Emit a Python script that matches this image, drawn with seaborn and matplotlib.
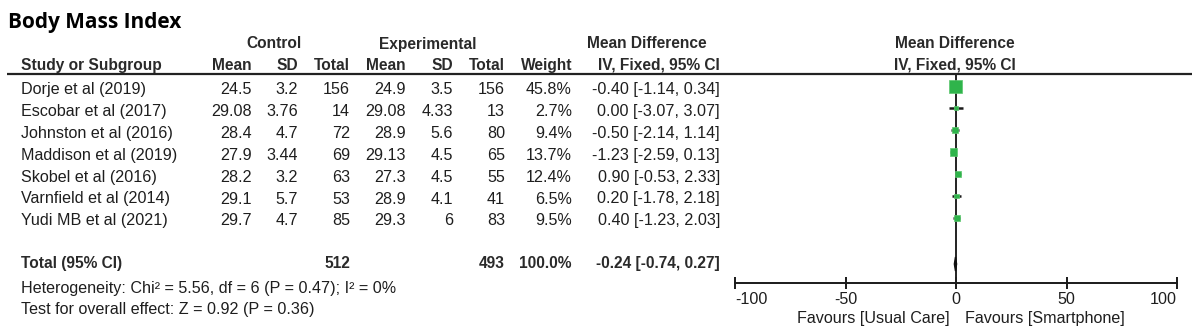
import matplotlib
matplotlib.use("Agg")
import matplotlib.pyplot as plt
import seaborn as sns
import pandas as pd

# ---- data ----
studies = ["Dorje et al (2019)", "Escobar et al (2017)", "Johnston et al (2016)",
           "Maddison et al (2019)", "Skobel et al (2016)", "Varnfield et al (2014)",
           "Yudi MB et al (2021)"]
ctrl_mean = [24.5, 29.08, 28.4, 27.9, 28.2, 29.1, 29.7]
ctrl_sd = [3.2, 3.76, 4.7, 3.44, 3.2, 5.7, 4.7]
ctrl_n = [156, 14, 72, 69, 63, 53, 85]
exp_mean = [24.9, 29.08, 28.9, 29.13, 27.3, 28.9, 29.3]
exp_sd = [3.5, 4.33, 5.6, 4.5, 4.5, 4.1, 6]
exp_n = [156, 13, 80, 65, 55, 41, 83]
weight = [45.8, 2.7, 9.4, 13.7, 12.4, 6.5, 9.5]
md = [-0.40, 0.00, -0.50, -1.23, 0.90, 0.20, 0.40]
ci_lo = [-1.14, -3.07, -2.14, -2.59, -0.53, -1.78, -1.23]
ci_hi = [0.34, 3.07, 1.14, 0.13, 2.33, 2.18, 2.03]
total_ctrl_n, total_exp_n, total_weight = 512, 493, 100.0
total_md, total_lo, total_hi = -0.24, -0.74, 0.27
x_ticks = [-100, -50, 0, 50, 100]
heterogeneity = "Heterogeneity: Chi\u00b2 = 5.56, df = 6 (P = 0.47); I\u00b2 = 0%"
overall = "Test for overall effect: Z = 0.92 (P = 0.36)"
favours_left = "Favours [Usual Care]"
favours_right = "Favours [Smartphone]"

sns.set_theme(style="white")
plt.rcParams["font.family"] = ["Liberation Sans", "DejaVu Sans"]
plt.rcParams["axes.unicode_minus"] = False

W, H = 1200, 333
fig = plt.figure(figsize=(W / 100, H / 100), dpi=100)
fig.patch.set_facecolor("white")

# background text layer in pixel units
bg = fig.add_axes([0, 0, 1, 1])
bg.set_xlim(0, W)
bg.set_ylim(H, 0)
bg.axis("off")

TXT = "#1e1e1e"
HDR = "#2a2a2a"
FS = 11.6
FSB = 11.2

bg.text(8, 28, "Body Mass Index", fontsize=15, fontweight="bold",
        family=["Open Sans", "DejaVu Sans"], color="black", va="baseline", ha="left")

# header row 1
for x, t in [(274, "Control"), (428, "Experimental"), (647, "Mean Difference"),
             (955, "Mean Difference")]:
    bg.text(x, 48.5, t, fontsize=FSB, fontweight="bold", color=HDR,
            ha="center", va="baseline")

# header row 2
bg.text(21, 70, "Study or Subgroup", fontsize=FSB, fontweight="bold", color=HDR,
        ha="left", va="baseline")
col_right = [252, 298, 350, 406, 453, 505, 572, 720]
col_heads = ["Mean", "SD", "Total", "Mean", "SD", "Total", "Weight", "IV, Fixed, 95% CI"]
for x, t in zip(col_right, col_heads):
    bg.text(x, 70, t, fontsize=FSB, fontweight="bold", color=HDR,
            ha="right", va="baseline")
bg.text(955, 70, "IV, Fixed, 95% CI", fontsize=FSB, fontweight="bold", color=HDR,
        ha="center", va="baseline")

# header rule
bg.plot([7, 1192], [74, 74], color="#222222", lw=1.6, solid_capstyle="butt")

# study rows
for i, s in enumerate(studies):
    yb = 94 + 21.9 * i
    bg.text(21, yb, s, fontsize=FS, color=TXT, ha="left", va="baseline")
    vals = [f"{ctrl_mean[i]:g}", f"{ctrl_sd[i]:g}", f"{ctrl_n[i]}",
            f"{exp_mean[i]:g}", f"{exp_sd[i]:g}", f"{exp_n[i]}",
            f"{weight[i]:.1f}%",
            f"{md[i]:.2f} [{ci_lo[i]:.2f}, {ci_hi[i]:.2f}]"]
    for x, v in zip(col_right, vals):
        bg.text(x, yb, v, fontsize=FS, color=TXT, ha="right", va="baseline")

# total row
yt = 268
bg.text(21, yt, "Total (95% CI)", fontsize=FSB, fontweight="bold", color=HDR,
        ha="left", va="baseline")
for x, v in [(350, f"{total_ctrl_n}"), (505, f"{total_exp_n}"),
             (572, f"{total_weight:.1f}%"),
             (720, f"{total_md:.2f} [{total_lo:.2f}, {total_hi:.2f}]")]:
    bg.text(x, yt, v, fontsize=FSB, fontweight="bold", color=HDR,
            ha="right", va="baseline")

bg.text(21, 293, heterogeneity, fontsize=FS, color=TXT, ha="left", va="baseline")
bg.text(21, 314, overall, fontsize=FS, color=TXT, ha="left", va="baseline")

bg.text(950, 323.5, favours_left, fontsize=FS, color=TXT, ha="right", va="baseline")
bg.text(965, 323.5, favours_right, fontsize=FS, color=TXT, ha="left", va="baseline")

# ---- forest axes ----
x0, x1 = 735, 1177
ytop, ybot = 74, 283
row0, rowstep = 86, 22
ax = fig.add_axes([x0 / W, (H - ybot) / H, (x1 - x0) / W, (ybot - ytop) / H])
ax.set_facecolor("none")

df = pd.DataFrame({"study": studies, "md": md, "lo": ci_lo, "hi": ci_hi,
                   "weight": weight, "row": list(range(len(studies)))})

ax.hlines(df["row"], df["lo"], df["hi"], color="#1a1a1a", lw=1.8, zorder=2)

max_side_pt = 13 * 0.72
sns.scatterplot(data=df, x="md", y="row", size="weight", marker="s",
                sizes=(0, max_side_pt ** 2), size_norm=(0, max(weight)),
                color="#2fb44b", edgecolor="#5cc76e", linewidth=0.5,
                legend=False, ax=ax, zorder=3)

total_row = (264 - row0) / rowstep
dh = 7 / rowstep
ax.fill([total_lo, total_md, total_hi, total_md],
        [total_row, total_row - dh, total_row, total_row + dh],
        facecolor="#111111", edgecolor="#111111", lw=1.0, zorder=3)

ax.set_xlim(-100, 100)
ax.set_ylim((ybot - row0) / rowstep, (ytop - row0) / rowstep)
ax.axvline(0, ymin=0, ymax=1, color="#222222", lw=1.4, zorder=1)

for side in ["top", "left", "right"]:
    ax.spines[side].set_visible(False)
ax.spines["bottom"].set_color("#1a1a1a")
ax.spines["bottom"].set_linewidth(1.4)
ax.set_yticks([])
ax.set_xticks(x_ticks)
ax.set_xticklabels([f"{t}" for t in x_ticks])
ax.tick_params(axis="x", direction="inout", length=9, width=1.4, color="#1a1a1a",
               labelsize=FS, labelcolor=TXT, pad=2, bottom=True)
labels = ax.get_xticklabels()
labels[0].set_horizontalalignment("left")
labels[-1].set_horizontalalignment("right")
ax.set_xlabel("")
ax.set_ylabel("")

fig.savefig("out.png", dpi=100, facecolor="white")
